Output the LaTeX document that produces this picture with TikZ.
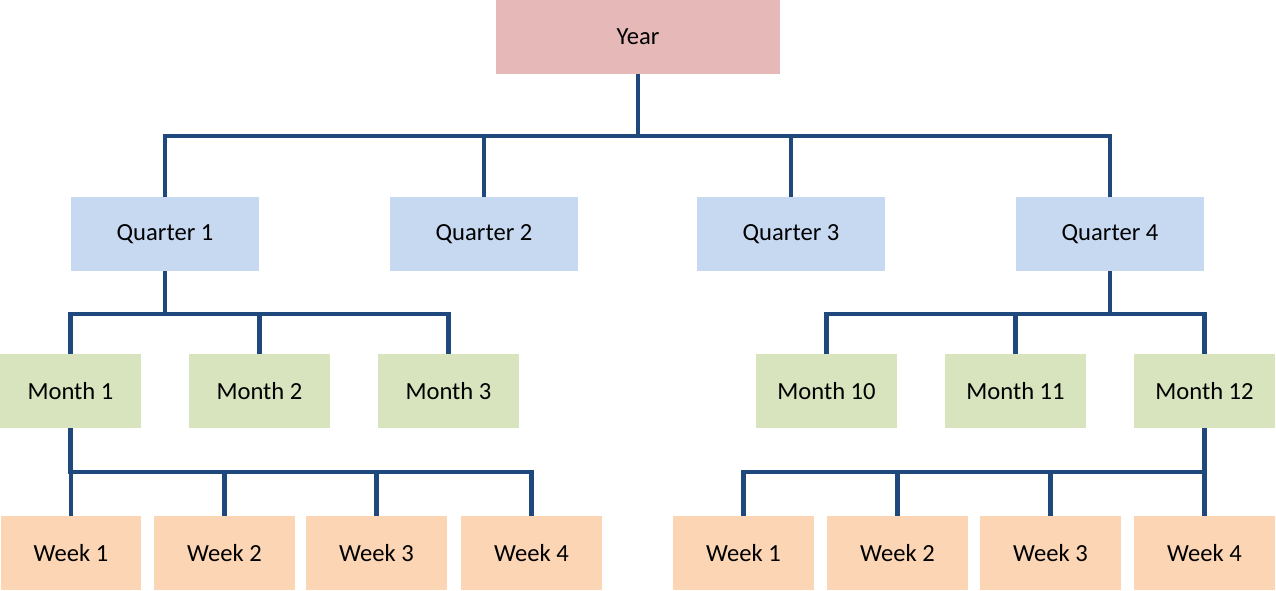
\documentclass[tikz,border=0pt]{standalone}
\usepackage{fontspec}
\setmainfont{Carlito}
\definecolor{yearfill}{HTML}{E6B8B7}
\definecolor{quarterfill}{HTML}{C6D9F1}
\definecolor{monthfill}{HTML}{D7E4BD}
\definecolor{weekfill}{HTML}{FCD5B5}
\definecolor{linkblue}{HTML}{1F497D}
\begin{document}
\begin{tikzpicture}
[x=0.02cm, y=-0.02cm,
box/.style={rectangle, draw=none, inner sep=0pt, minimum height=1.48cm, font=\fontsize{14}{17}\selectfont},
yearnode/.style={box, fill=yearfill, minimum width=5.68cm},
quarternode/.style={box, fill=quarterfill, minimum width=3.76cm},
monthnode/.style={box, fill=monthfill, minimum width=2.82cm},
weeknode/.style={box, fill=weekfill, minimum width=2.82cm},
connect/.style={draw=linkblue, line width=2.7pt}]
\useasboundingbox (0,0) rectangle (1276,591);

\node[yearnode]	(year) at (638, 37) {Year};
\node[quarternode]	(quarter1) at (165, 234) {Quarter 1};
\node[quarternode]	(quarter2) at (484, 234) {Quarter 2};
\node[quarternode]	(quarter3) at (791, 234) {Quarter 3};
\node[quarternode]	(quarter4) at (1110, 234) {Quarter 4};
\node[monthnode]	(month1) at (70.5, 391) {Month 1};
\node[monthnode]	(month2) at (259.5, 391) {Month 2};
\node[monthnode]	(month3) at (448.5, 391) {Month 3};
\node[monthnode]	(month10) at (826.5, 391) {Month 10};
\node[monthnode]	(month11) at (1015.5, 391) {Month 11};
\node[monthnode]	(month12) at (1204.5, 391) {Month 12};
\node[weeknode]	(weekA1) at (71, 553) {Week 1};
\node[weeknode]	(weekA2) at (224.5, 553) {Week 2};
\node[weeknode]	(weekA3) at (376.5, 553) {Week 3};
\node[weeknode]	(weekA4) at (531.5, 553) {Week 4};
\node[weeknode]	(weekB1) at (743.5, 553) {Week 1};
\node[weeknode]	(weekB2) at (897.5, 553) {Week 2};
\node[weeknode]	(weekB3) at (1050.5, 553) {Week 3};
\node[weeknode]	(weekB4) at (1204.5, 553) {Week 4};

\coordinate (bar1) at (0, 136);
\coordinate (bar2) at (0, 314);
\coordinate (bar3) at (0, 472);

\draw[connect] (year.south) -- (year.south |- bar1) -| (quarter1.north);
\draw[connect] (year.south) -- (year.south |- bar1) -| (quarter2.north);
\draw[connect] (year.south) -- (year.south |- bar1) -| (quarter3.north);
\draw[connect] (year.south) -- (year.south |- bar1) -| (quarter4.north);
\draw[connect] (quarter1.south) -- (quarter1.south |- bar2) -| (month1.north);
\draw[connect] (quarter1.south) -- (quarter1.south |- bar2) -| (month2.north);
\draw[connect] (quarter1.south) -- (quarter1.south |- bar2) -| (month3.north);
\draw[connect] (quarter4.south) -- (quarter4.south |- bar2) -| (month10.north);
\draw[connect] (quarter4.south) -- (quarter4.south |- bar2) -| (month11.north);
\draw[connect] (quarter4.south) -- (quarter4.south |- bar2) -| (month12.north);
\draw[connect] (month1.south) -- (month1.south |- bar3) -| (weekA1.north);
\draw[connect] (month1.south) -- (month1.south |- bar3) -| (weekA2.north);
\draw[connect] (month1.south) -- (month1.south |- bar3) -| (weekA3.north);
\draw[connect] (month1.south) -- (month1.south |- bar3) -| (weekA4.north);
\draw[connect] (month12.south) -- (month12.south |- bar3) -| (weekB1.north);
\draw[connect] (month12.south) -- (month12.south |- bar3) -| (weekB2.north);
\draw[connect] (month12.south) -- (month12.south |- bar3) -| (weekB3.north);
\draw[connect] (month12.south) -- (month12.south |- bar3) -| (weekB4.north);

\end{tikzpicture}
\end{document}
